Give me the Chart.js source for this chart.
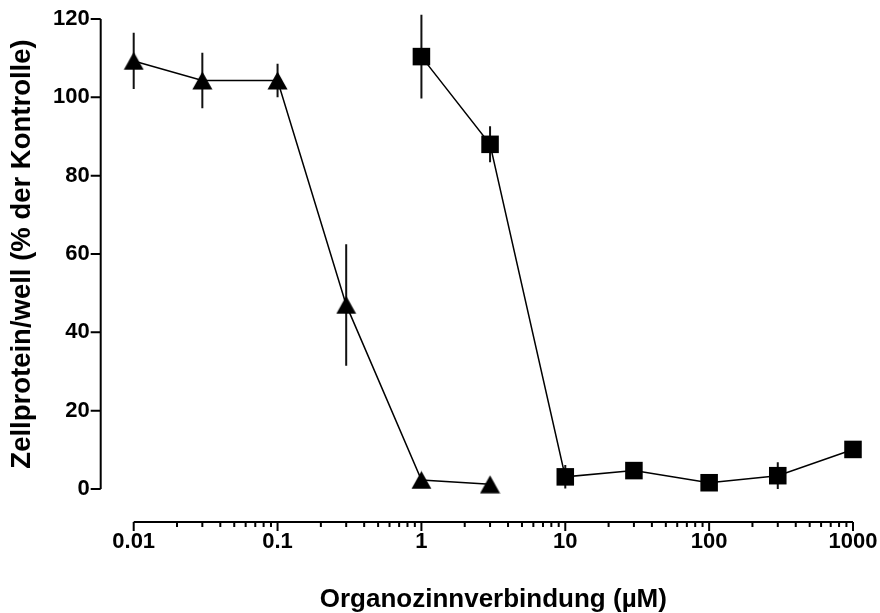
<!DOCTYPE html>
<html>
<head>
<meta charset="utf-8">
<script src="https://cdn.jsdelivr.net/npm/chart.js@4/dist/chart.umd.min.js"></script>
<style>
  html, body { margin: 0; padding: 0; background: #fff; }
  #wrap { width: 880px; height: 613px; }
</style>
</head>
<body>
<div id="wrap"><canvas id="chart" width="880" height="613"></canvas></div>
<script>
// triangles
const triX = [0.01, 0.03, 0.1, 0.3, 1, 3];
const triY = [109.3, 104.3, 104.3, 47.0, 2.3, 1.2];
const triErr = [7.2, 7.1, 4.3, 15.5, 0, 0];

// squares
const sqX = [1, 3, 10, 30, 100, 300, 1000];
const sqY = [110.4, 88.0, 3.1, 4.7, 1.6, 3.4, 10.1];
const sqErr = [10.7, 4.6, 3.0, 0, 0, 3.4, 0];

const xTicks = [0.01, 0.1, 1, 10, 100, 1000];
const xTickLabels = ["0.01", "0.1", "1", "10", "100", "1000"];
const yTicks = [0, 20, 40, 60, 80, 100, 120];

const xTitle = "Organozinnverbindung (µM)";
const yTitle = "Zellprotein/well (% der Kontrolle)";

const GAP = 33; // axes are drawn detached from the plot area

// filled triangle marker, centred on its bounding box
function triangleMarker() {
  const c = document.createElement("canvas");
  c.width = 21; c.height = 19;
  const g = c.getContext("2d");
  g.fillStyle = "#000";
  g.beginPath();
  g.moveTo(10.5, 0.5);
  g.lineTo(20.5, 18.5);
  g.lineTo(0.5, 18.5);
  g.closePath();
  g.fill();
  return c;
}

const axesPlugin = {
  id: "axes",
  beforeDatasetsDraw(chart) {
    const { ctx, chartArea, scales: { x, y } } = chart;
    ctx.save();
    ctx.strokeStyle = "#000";
    ctx.lineWidth = 2;

    // y axis
    const ax = chartArea.left - GAP;
    ctx.beginPath();
    ctx.moveTo(ax, y.getPixelForValue(yTicks[0]));
    ctx.lineTo(ax, y.getPixelForValue(yTicks[yTicks.length - 1]));
    yTicks.forEach((v) => {
      const py = y.getPixelForValue(v);
      ctx.moveTo(ax - 10, py);
      ctx.lineTo(ax, py);
    });
    ctx.stroke();

    // x axis with log minor ticks
    const ay = chartArea.bottom + GAP;
    ctx.beginPath();
    ctx.moveTo(x.getPixelForValue(xTicks[0]), ay);
    ctx.lineTo(x.getPixelForValue(xTicks[xTicks.length - 1]), ay);
    xTicks.forEach((d, i) => {
      const px = x.getPixelForValue(d);
      ctx.moveTo(px, ay);
      ctx.lineTo(px, ay + 9);
      if (i < xTicks.length - 1) {
        for (let k = 2; k <= 9; k++) {
          const mx = x.getPixelForValue(d * k);
          ctx.moveTo(mx, ay);
          ctx.lineTo(mx, ay + 5);
        }
      }
    });
    ctx.stroke();

    // error bars
    ctx.strokeStyle = "#111";
    ctx.lineWidth = 2;
    ctx.beginPath();
    [[triX, triY, triErr], [sqX, sqY, sqErr]].forEach(([xs, ys, es]) => {
      xs.forEach((xv, i) => {
        if (!es[i]) return;
        const px = x.getPixelForValue(xv);
        ctx.moveTo(px, y.getPixelForValue(ys[i] - es[i]));
        ctx.lineTo(px, y.getPixelForValue(ys[i] + es[i]));
      });
    });
    ctx.stroke();
    ctx.restore();
  },
};

const font = { family: "'Liberation Sans', Arial, sans-serif", weight: "bold" };

// drop the label overhang padding chart.js adds, layout padding covers it
function noOverhang(s) {
  s.paddingTop = 0;
  s.paddingBottom = 0;
  s.paddingLeft = 0;
  s.paddingRight = 0;
}

new Chart(document.getElementById("chart"), {
  type: "line",
  data: {
    datasets: [
      {
        label: "Triangles",
        data: triX.map((v, i) => ({ x: v, y: triY[i] })),
        borderColor: "#000",
        borderWidth: 1.5,
        pointStyle: triangleMarker(),
        clip: false,
      },
      {
        label: "Squares",
        data: sqX.map((v, i) => ({ x: v, y: sqY[i] })),
        borderColor: "#000",
        backgroundColor: "#000",
        borderWidth: 1.5,
        pointStyle: "rect",
        pointRadius: 12.4,
        pointBorderWidth: 0,
        clip: false,
      },
    ],
  },
  options: {
    responsive: false,
    animation: false,
    layout: { padding: { top: 19, right: 27, left: 0, bottom: 0 } },
    plugins: { legend: { display: false }, tooltip: { enabled: false } },
    scales: {
      x: {
        type: "logarithmic",
        min: 0.01,
        max: 1000,
        grid: { display: false, drawTicks: false },
        border: { display: false },
        afterBuildTicks: (s) => { s.ticks = xTicks.map((v) => ({ value: v })); },
        afterFit: (s) => { s.height = 124; noOverhang(s); },
        ticks: {
          color: "#000",
          font: { ...font, size: 22 },
          padding: 40,
          maxRotation: 0,
          autoSkip: false,
          callback: (v, i) => xTickLabels[i],
        },
        title: {
          display: true,
          text: xTitle,
          color: "#000",
          font: { ...font, size: 26, lineHeight: 1 },
          padding: { top: 0, bottom: 0 },
        },
      },
      y: {
        min: 0,
        max: 120,
        grid: { display: false, drawTicks: false },
        border: { display: false },
        afterBuildTicks: (s) => { s.ticks = yTicks.map((v) => ({ value: v })); },
        afterFit: (s) => { s.width = 133.7; noOverhang(s); },
        ticks: {
          color: "#000",
          font: { ...font, size: 22 },
          padding: 44,
        },
        title: {
          display: true,
          text: yTitle,
          color: "#000",
          font: { ...font, size: 27.5, lineHeight: 1 },
          padding: { top: 9, bottom: 0 },
        },
      },
    },
  },
  plugins: [axesPlugin],
});
</script>
</body>
</html>
